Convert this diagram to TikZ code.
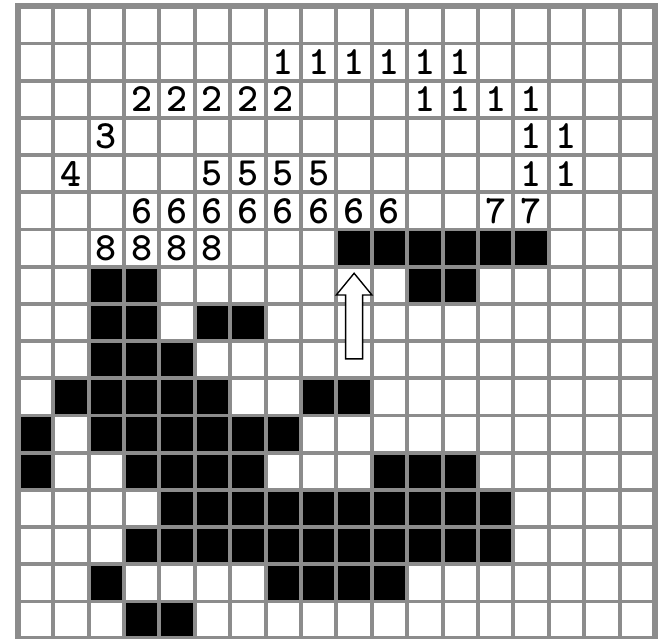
\documentclass[tikz,border=0pt]{standalone}
\usepackage{tikz}
\definecolor{gridgray}{RGB}{140,140,140}

\begin{document}
\begin{tikzpicture}[x=0.9cm,y=0.9457cm,
    num/.style={font=\ttfamily\bfseries\fontsize{29}{29}\selectfont, inner sep=0pt},
    cell/.style={fill=black}]
    \useasboundingbox (-0.503,-0.008) rectangle (18.141,17.169);

    % black cells, row r (from the top) lies between y=16-r and y=17-r
    \foreach \r/\cols in {6/{9,10,11,12,13,14}, 7/{2,3,11,12}, 8/{2,3,5,6},
        9/{2,3,4}, 10/{1,2,3,4,5,8,9}, 11/{0,2,3,4,5,6,7},
        12/{0,3,4,5,6,10,11,12}, 13/{4,5,6,7,8,9,10,11,12,13},
        14/{3,4,5,6,7,8,9,10,11,12,13}, 15/{2,7,8,9,10}, 16/{3,4}} {
        \foreach \c in \cols
            \fill[cell] (\c,16-\r) rectangle ++(1,1);
    }

    % grid
    \draw[gridgray, line width=2.8pt, step=1] (0,0) grid (18,17);
    \draw[gridgray, line width=4.3pt] (0,0) rectangle (18,17);

    % arrow pointing up into the bar
    \draw[fill=white, line width=1pt, line join=miter]
        (9.5,9.823) -- (10.003,9.239) -- (9.74,9.239) -- (9.74,7.52)
        -- (9.26,7.52) -- (9.26,9.239) -- (8.997,9.239) -- cycle;

    % labels
    \foreach \r/\d/\cols in {1/1/{7,8,9,10,11,12}, 2/2/{3,4,5,6,7},
        2/1/{11,12,13,14}, 3/3/{2}, 3/1/{14,15}, 4/4/{1}, 4/5/{5,6,7,8},
        4/1/{14,15}, 5/6/{3,4,5,6,7,8,9,10}, 5/7/{13,14}, 6/8/{2,3,4,5}} {
        \foreach \c in \cols
            \node[num] (d\r-\c) at (\c+0.5,16.5-\r) {\d};
    }
\end{tikzpicture}
\end{document}
